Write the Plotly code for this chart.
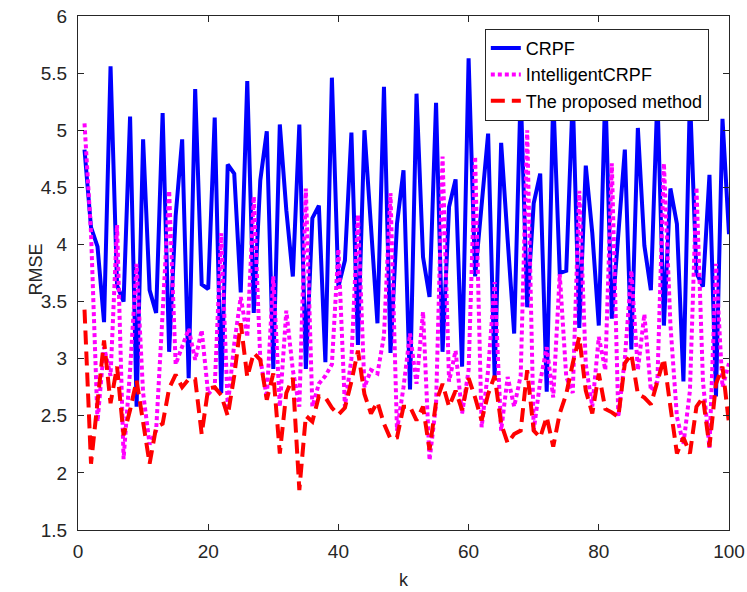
import plotly.graph_objects as go

k = list(range(1, 101))

crpf = [4.83, 4.15, 3.98, 3.32, 5.56, 3.64, 3.50, 5.12, 2.58, 4.92,
        3.60, 3.40, 5.15, 3.06, 4.25, 4.92, 2.83, 5.36, 3.65, 3.61,
        5.11, 2.70, 4.70, 4.62, 3.58, 5.43, 3.40, 4.56, 4.99, 2.91,
        5.05, 4.30, 3.72, 5.05, 2.91, 4.23, 4.34, 2.97, 5.46, 3.63,
        3.86, 4.98, 3.12, 5.00, 4.16, 3.31, 5.38, 3.05, 4.18, 4.65,
        2.73, 5.32, 3.89, 3.54, 5.24, 3.06, 4.33, 4.57, 2.93, 5.63,
        3.72, 4.35, 4.97, 2.84, 4.89, 4.04, 3.22, 5.35, 3.45, 4.36,
        4.62, 2.71, 5.30, 3.75, 3.77, 5.30, 3.27, 4.69, 4.10, 3.29,
        5.35, 3.35, 4.07, 4.83, 3.08, 5.02, 3.99, 3.60, 5.30, 3.29,
        4.49, 4.18, 2.80, 5.30, 3.75, 3.63, 4.61, 2.67, 5.10, 4.09]

intelligent_crpf = [5.06, 4.10, 2.45, 3.10, 2.85, 4.17, 2.12, 2.90, 3.83, 2.70,
                    2.25, 2.37, 3.40, 4.47, 2.95, 3.10, 3.26, 2.99, 3.25, 2.69,
                    2.75, 4.10, 2.58, 3.13, 3.54, 3.19, 4.42, 3.00, 2.66, 3.72,
                    2.58, 3.42, 2.90, 2.58, 4.49, 2.58, 2.78, 2.85, 2.95, 3.96,
                    2.58, 3.00, 4.26, 2.75, 2.90, 2.87, 3.20, 4.45, 2.37, 2.75,
                    3.22, 2.78, 3.41, 2.11, 2.60, 4.77, 2.80, 3.07, 2.52, 2.90,
                    4.77, 2.40, 2.90, 3.67, 2.37, 2.84, 2.58, 2.85, 5.00, 2.37,
                    2.80, 3.10, 2.66, 3.74, 2.84, 2.70, 4.47, 2.95, 2.58, 3.19,
                    2.90, 4.71, 2.49, 3.00, 3.77, 2.90, 3.39, 2.72, 2.80, 4.71,
                    3.30, 2.49, 2.25, 2.72, 4.50, 2.80, 2.22, 3.83, 2.75, 2.96]

proposed = [3.43, 2.08, 2.62, 3.16, 2.61, 2.93, 2.33, 2.55, 2.81, 2.45,
            2.08, 2.40, 2.43, 2.74, 2.86, 2.75, 2.82, 2.82, 2.34, 2.74,
            2.75, 2.68, 2.50, 2.85, 3.31, 2.84, 3.05, 2.99, 2.64, 2.87,
            2.17, 2.70, 2.83, 1.85, 2.50, 2.45, 2.67, 2.66, 2.57, 2.51,
            2.57, 2.80, 3.07, 2.69, 2.52, 2.62, 2.43, 2.30, 2.31, 2.58,
            2.58, 2.46, 2.58, 2.20, 2.62, 2.78, 2.58, 2.72, 2.55, 2.83,
            2.66, 2.46, 2.69, 2.85, 2.43, 2.26, 2.34, 2.37, 2.90, 2.37,
            2.31, 2.49, 2.23, 2.52, 2.69, 2.96, 3.19, 2.72, 2.52, 2.87,
            2.56, 2.53, 2.49, 2.96, 3.04, 2.69, 2.66, 2.60, 2.81, 3.00,
            2.58, 2.17, 2.31, 2.17, 2.58, 2.66, 2.23, 2.78, 2.93, 2.43]

x_ticks = [0, 20, 40, 60, 80, 100]
y_ticks = [1.5, 2, 2.5, 3, 3.5, 4, 4.5, 5, 5.5, 6]

FONT = "Liberation Sans, Arial, sans-serif"

fig = go.Figure()
fig.add_trace(go.Scatter(x=k, y=crpf, mode="lines", name="CRPF",
                         line=dict(color="#0000FF", width=4)))
fig.add_trace(go.Scatter(x=k, y=intelligent_crpf, mode="lines", name="IntelligentCRPF",
                         line=dict(color="#FF00FF", width=4, dash="4px,3px")))
fig.add_trace(go.Scatter(x=k, y=proposed, mode="lines", name="The proposed method",
                         line=dict(color="#FF0000", width=4, dash="14px,7px")))

axis_common = dict(
    showgrid=False, zeroline=False, showline=True, linecolor="#262626", linewidth=1,
    mirror="ticks", ticks="inside", ticklen=6, tickcolor="#262626", tickwidth=1,
    tickfont=dict(family=FONT, size=19, color="#262626"),
    title_font=dict(family=FONT, size=18, color="#262626"),
)

fig.update_layout(
    width=747, height=592,
    margin=dict(l=78, r=18, t=16, b=62, autoexpand=False),
    paper_bgcolor="white", plot_bgcolor="white",
    font=dict(family=FONT, size=18, color="#262626"),
    xaxis=dict(range=[0, 100], tickvals=x_ticks, title=dict(text="k", standoff=12),
               ticklabelstandoff=4, **axis_common),
    yaxis=dict(range=[1.5, 6], tickvals=y_ticks, ticklabelstandoff=6, **axis_common),
    legend=dict(x=0.969, y=0.975, xanchor="right", yanchor="top",
                bgcolor="white", bordercolor="#262626", borderwidth=1,
                font=dict(family=FONT, size=18, color="black"),
                tracegroupgap=0, itemwidth=30),
    showlegend=True,
    annotations=[dict(text="RMSE", xref="paper", yref="paper",
                      x=-0.065, y=0.506, xanchor="center", yanchor="middle",
                      textangle=-90, showarrow=False,
                      font=dict(family=FONT, size=18, color="#262626"))],
)

fig.write_html("out.html")
